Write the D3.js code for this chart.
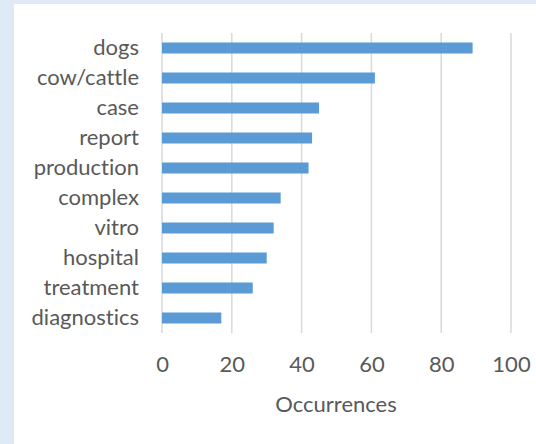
<!DOCTYPE html>
<html>
<head>
<meta charset="utf-8">
<script src="https://cdn.jsdelivr.net/npm/d3@7"></script>
<style>
  html, body { margin: 0; padding: 0; background: #deeaf6; }
  svg { display: block; }
  text { font-variant-ligatures: none; font-feature-settings: "liga" 0; }
</style>
</head>
<body>
<svg id="chart" width="536" height="444"></svg>
<script>
// Keyword frequencies
const categories = ["dogs", "cow/cattle", "case", "report", "production",
                    "complex", "vitro", "hospital", "treatment", "diagnostics"];
const occurrences = [89, 61, 45, 43, 42, 34, 32, 30, 26, 17];
const tickValues = [0, 20, 40, 60, 80, 100];
const axisTitle = "Occurrences";

const svg = d3.select("#chart");
const font = "Lato, 'Open Sans', sans-serif";
const fontSize = 22;
const textColor = "#595959";

// white chart panel
svg.append("rect")
  .attr("x", 14).attr("y", 4)
  .attr("width", 536 - 14).attr("height", 444 - 4)
  .attr("fill", "#ffffff");

const x = d3.scaleLinear().domain([0, 100]).range([162, 511]);
const y = d3.scaleBand().domain(categories).range([33, 333]);

// vertical gridlines
svg.append("g")
  .selectAll("line")
  .data(tickValues)
  .join("line")
  .attr("x1", d => x(d)).attr("x2", d => x(d))
  .attr("y1", 33).attr("y2", 333)
  .attr("stroke", "#d9d9d9")
  .attr("stroke-width", 1.5);

// bars
const barH = 11;
svg.append("g")
  .selectAll("rect")
  .data(categories)
  .join("rect")
  .attr("x", x(0))
  .attr("y", d => y(d) + y.bandwidth() / 2 - barH / 2)
  .attr("width", (d, i) => x(occurrences[i]) - x(0))
  .attr("height", barH)
  .attr("fill", "#5b9bd5");

// category axis
const yAxis = svg.append("g")
  .attr("transform", `translate(${x(0)},0)`)
  .call(d3.axisLeft(y).tickSize(0).tickPadding(23));
yAxis.select(".domain").remove();
yAxis.selectAll("text")
  .attr("dy", "0.34em")
  .attr("font-family", font)
  .attr("font-size", fontSize)
  .attr("fill", textColor);

// value axis
const xAxis = svg.append("g")
  .attr("transform", "translate(0,356)")
  .call(d3.axisBottom(x).tickValues(tickValues).tickSize(0).tickPadding(0));
xAxis.select(".domain").remove();
xAxis.selectAll("text")
  .attr("font-family", font)
  .attr("font-size", fontSize)
  .attr("fill", textColor);

// axis title
svg.append("text")
  .attr("x", 336)
  .attr("y", 412)
  .attr("text-anchor", "middle")
  .attr("font-family", font)
  .attr("font-size", fontSize)
  .attr("fill", textColor)
  .text(axisTitle);
</script>
</body>
</html>
